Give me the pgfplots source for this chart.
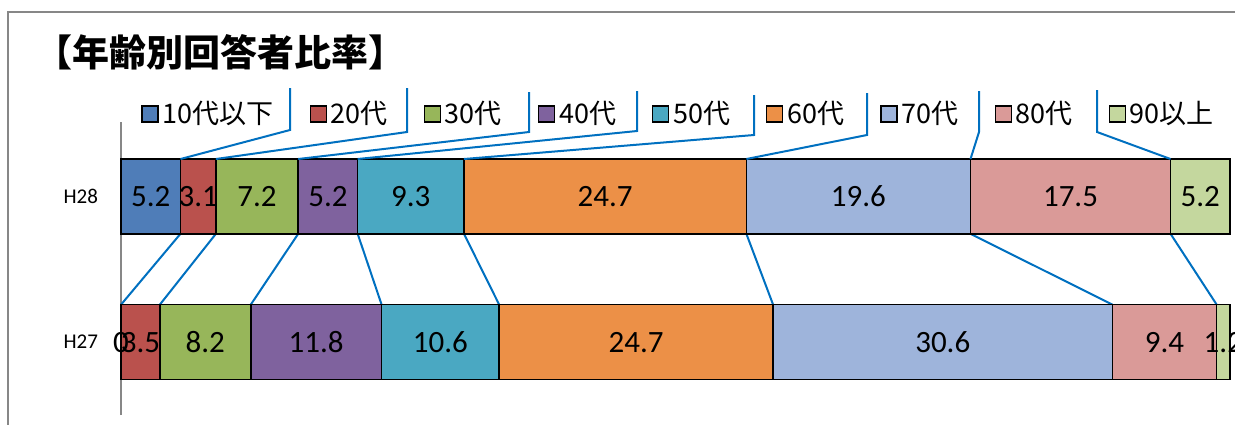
\documentclass[border=0pt]{standalone}
\usepackage{fontspec}
\setmainfont{Carlito}
\newfontfamily\jp{Noto Sans CJK JP}
\usepackage{pgfplots}
\pgfplotsset{compat=1.18}

\definecolor{c1}{HTML}{4F7DB8}
\definecolor{c2}{HTML}{BA514D}
\definecolor{c3}{HTML}{97B65A}
\definecolor{c4}{HTML}{7F629E}
\definecolor{c5}{HTML}{4AA8C2}
\definecolor{c6}{HTML}{EC9047}
\definecolor{c7}{HTML}{9EB4DB}
\definecolor{c8}{HTML}{DA9A98}
\definecolor{c9}{HTML}{C4D79E}
\definecolor{leader}{HTML}{0070C0}
\definecolor{frame}{HTML}{878787}

\begin{document}
\begin{tikzpicture}
\begin{scope}[x=0.5pt,y=-0.5pt]
  \draw[frame, line width=0.75pt] (8,440) -- (8,12) -- (1260,12);
  \node[anchor=west, inner sep=0pt, font=\jp\bfseries\fontsize{18.5}{22}\selectfont] at (35,52) {【年齢別回答者比率】};
\end{scope}

\begin{axis}[
  at={(60.5pt,-207.5pt)}, anchor=south west,
  width=554.5pt, height=146.5pt, scale only axis,
  xmin=0, xmax=100, ymin=-0.5, ymax=1.51,
  xbar stacked, bar width=0.514,
  axis x line=none, axis y line*=left,
  y axis line style={frame, line width=0.75pt},
  ytick={0,1}, yticklabels={H27,H28},
  major tick length=0pt,
  yticklabel style={font=\fontsize{10.5}{12}\selectfont, xshift=-8pt},
  x filter/.expression={y>0.5 ? x*100/97 : x},
  clip=false,
  legend columns=9,
  legend style={at={(axis description cs:0.018,1.0273)}, anchor=west,
    draw=none, fill=none, inner sep=0pt,
    font=\jp\fontsize{13.5}{16}\selectfont,
    /tikz/every even column/.append style={column sep=16pt}},
  lbl/.style={point meta=rawx,
    nodes near coords={\pgfmathprintnumber[assume math mode=true]{\pgfplotspointmeta}},
    every node near coord/.append style={font=\fontsize{15.5}{18}\selectfont, black}},
  seg/.style={fill=#1, draw=black, line width=0.75pt,
    legend image code/.code={\draw[##1, draw=black, line width=0.6pt] (0pt,-4pt) rectangle (8pt,4pt);}},
]
\addplot[seg=c1] coordinates {(5.2,1) (0,0)};
\addlegendentry{10代以下}
\addplot[seg=c2, lbl] coordinates {(3.1,1) (3.5,0)};
\addlegendentry{20代}
\addplot[seg=c3, lbl] coordinates {(7.2,1) (8.2,0)};
\addlegendentry{30代}
\addplot[seg=c4, lbl] coordinates {(5.2,1) (11.8,0)};
\addlegendentry{40代}
\addplot[seg=c5, lbl] coordinates {(9.3,1) (10.6,0)};
\addlegendentry{50代}
\addplot[seg=c6, lbl] coordinates {(24.7,1) (24.7,0)};
\addlegendentry{60代}
\addplot[seg=c7, lbl] coordinates {(19.6,1) (30.6,0)};
\addlegendentry{70代}
\addplot[seg=c8, lbl] coordinates {(17.5,1) (9.4,0)};
\addlegendentry{80代}
\addplot[seg=c9, lbl] coordinates {(5.2,1) (1.2,0)};
\addlegendentry{90以上}

% labels of the first segment, drawn on top of the bars
\addplot[forget plot, stack plots=false, sharp plot, draw=none, no markers,
  point meta=explicit,
  nodes near coords={\pgfmathprintnumber[assume math mode=true]{\pgfplotspointmeta}},
  every node near coord/.append style={font=\fontsize{15.5}{18}\selectfont, black, anchor=center}]
  coordinates {(5.2,1) [5.2] (0,0) [0]};

% series lines between the two bars (cumulative boundaries)
\addplot[forget plot, stack plots=false, sharp plot, no markers, leader, line width=1pt,
  unbounded coords=jump] coordinates {
  (5.2,0.743) (0,0.257) (nan,nan)
  (8.3,0.743) (3.5,0.257) (nan,nan)
  (15.5,0.743) (11.7,0.257) (nan,nan)
  (20.7,0.743) (23.5,0.257) (nan,nan)
  (30.0,0.743) (34.1,0.257) (nan,nan)
  (54.7,0.743) (58.8,0.257) (nan,nan)
  (74.3,0.743) (89.4,0.257) (nan,nan)
  (91.8,0.743) (98.8,0.257)
};
\end{axis}

\begin{scope}[x=0.5pt,y=-0.5pt, leader, line width=1pt]
  \draw (290,88) -- (290,130) -- (180.5,159);
  \draw (407,88) -- (407,132) -- (215.9,159);
  \draw (529,92) -- (529,132) -- (298.2,159);
  \draw (637,91) -- (637,131) -- (357.7,159);
  \draw (754,95) -- (754,135) -- (464,159);
  \draw (867,93) -- (867,135) -- (746.4,159);
  \draw (979,91) -- (979,132) -- (970.5,159);
  \draw (1097,90) -- (1097,132) -- (1170.5,159);
\end{scope}
\pgfresetboundingbox
\path[use as bounding box] (0pt,0pt) rectangle (617.5pt,-212pt);
\end{tikzpicture}
\end{document}
